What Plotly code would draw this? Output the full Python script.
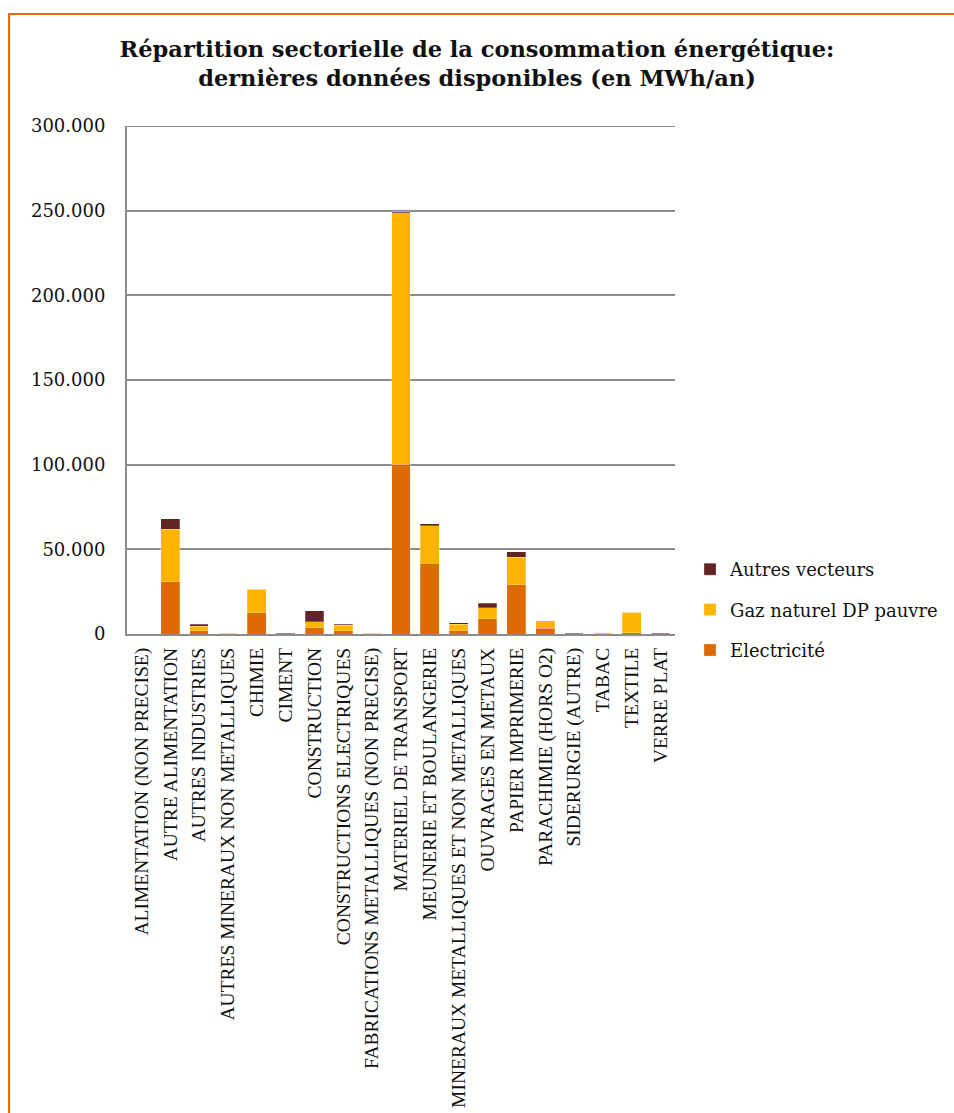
import plotly.graph_objects as go

categories = [
    "ALIMENTATION (NON PRECISE)", "AUTRE ALIMENTATION", "AUTRES INDUSTRIES",
    "AUTRES MINERAUX NON METALLIQUES", "CHIMIE", "CIMENT", "CONSTRUCTION",
    "CONSTRUCTIONS ELECTRIQUES", "FABRICATIONS METALLIQUES (NON PRECISE)",
    "MATERIEL DE TRANSPORT", "MEUNERIE ET BOULANGERIE",
    "MINERAUX METALLIQUES ET NON METALLIQUES", "OUVRAGES EN METAUX",
    "PAPIER IMPRIMERIE", "PARACHIMIE (HORS O2)", "SIDERURGIE (AUTRE)",
    "TABAC", "TEXTILE", "VERRE PLAT",
]
electricite = [0, 31000, 1800, 300, 12500, 200, 3800, 1800, 300, 100300, 41700,
               1800, 9100, 29100, 3500, 150, 100, 800, 150]
gaz_naturel = [0, 31000, 2700, 200, 14000, 50, 3300, 3400, 200, 148400, 22300,
               4100, 6500, 16200, 4200, 50, 500, 12000, 50]
autres_vecteurs = [0, 6000, 1400, 100, 300, 50, 6500, 700, 100, 700, 1000,
                   600, 2500, 3300, 200, 100, 0, 0, 100]

series_names = ["Electricité", "Gaz naturel DP pauvre", "Autres vecteurs"]
series_colors = ["#DD6B02", "#FFB400", "#632523"]

fig = go.Figure()
for i, (name, vals, col) in enumerate(zip(series_names, [electricite, gaz_naturel, autres_vecteurs], series_colors)):
    fig.add_trace(go.Bar(
        x=categories, y=vals, name=name, legendgroup=f"g{i}", legendrank=10 - i,
        marker=dict(color=col, line=dict(width=0.5, color="rgba(255,255,255,0.5)")),
    ))

W, H = 954, 1113
L, R, T, B = 127, 954 - 675, 126, H - 634
pw, ph = W - L - R, H - T - B

def px_x(p):
    return (p - L) / pw

def px_y(p):
    return (H - B - p) / ph

fig.update_layout(
    width=W, height=H,
    margin=dict(l=L, r=R, t=T, b=B, autoexpand=False),
    barmode="stack", bargap=0.35,
    paper_bgcolor="white", plot_bgcolor="white",
    separators=",.",
    title=dict(
        text="<b>Répartition sectorielle de la consommation énergétique:<br>dernières données disponibles (en MWh/an)</b>",
        x=0.5, xref="container", xanchor="center",
        y=1 - 57 / H, yref="container", yanchor="top",
        font=dict(family="DejaVu Serif", size=22.5, color="#111111"),
    ),
    font=dict(family="DejaVu Serif", color="#111111"),
    yaxis=dict(
        range=[0, 300000], dtick=50000, tickformat=",d",
        showgrid=True, gridcolor="#8c8c8c", gridwidth=2,
        showline=True, linecolor="#8c8c8c", linewidth=2,
        zeroline=False, ticks="", ticklabelstandoff=16,
        tickfont=dict(family="DejaVu Serif", size=18, color="#111111"),
        fixedrange=True,
    ),
    xaxis=dict(
        tickangle=-90, showline=True, linecolor="#8c8c8c", linewidth=2,
        showgrid=False, ticks="", ticklabelstandoff=4,
        tickfont=dict(family="Liberation Serif", size=19.5, color="#111111"),
    ),
    legend=dict(
        traceorder="grouped", x=px_x(690), xanchor="left",
        y=px_y(551), yanchor="top", tracegroupgap=14,
        font=dict(family="DejaVu Serif", size=18, color="#111111"),
        itemwidth=30, bgcolor="rgba(0,0,0,0)",
    ),
    shapes=[
        dict(
            type="line", xref="paper", yref="y",
            x0=0, x1=1, y0=300000, y1=300000,
            line=dict(color="#8c8c8c", width=2), layer="below",
        ),
        dict(
            type="rect", xref="paper", yref="paper",
            x0=px_x(9), x1=px_x(990), y0=px_y(1150), y1=px_y(14),
            line=dict(color="#E46C0A", width=2), fillcolor="rgba(0,0,0,0)", layer="above",
        ),
    ],
    showlegend=True,
)

fig.write_html("out.html")
